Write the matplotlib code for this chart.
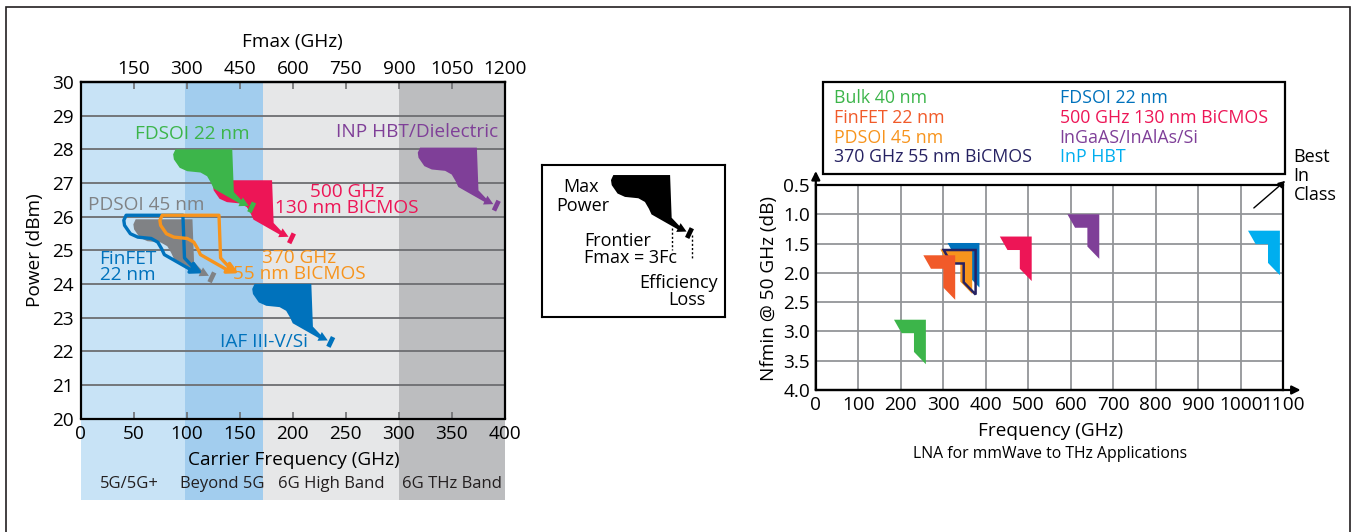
import matplotlib.pyplot as plt
from matplotlib.patches import Polygon, Rectangle

plt.rcParams["font.family"] = ["Open Sans", "DejaVu Sans"]

W_PX, H_PX = 1357, 532
FS = 13.7

# =========================
# Left chart: PA power vs carrier frequency
# =========================
BAND_EDGES = [0, 98, 172, 300, 400]
BAND_NAMES = ["5G/5G+", "Beyond 5G", "6G High Band", "6G THz Band"]
BAND_COLORS = ["#c8e3f6", "#a2cdee", "#e6e7e8", "#bcbdbf"]
BAND_LABEL_X = [46, 134, 236, 350]

FC_TICKS = [0, 50, 100, 150, 200, 250, 300, 350, 400]
FMAX_TICKS = [150, 300, 450, 600, 750, 900, 1050, 1200]
POWER_TICKS = [20, 21, 22, 23, 24, 25, 26, 27, 28, 29, 30]

# top-left corner of each max-power region (carrier GHz, dBm)
PA_NAMES = ["PDSOI 45 nm", "FinFET 22 nm", "370 GHz 55 nm BICMOS",
            "500 GHz 130 nm BICMOS", "FDSOI 22 nm", "INP HBT/Dielectric",
            "IAF III-V/Si"]
PA_FC = [52, 43, 77, 127, 89.5, 320, 164]
PA_POWER = [25.92, 26.04, 26.04, 27.08, 28.0, 28.05, 24.0]
PA_COLORS = ["#808285", "#0072bc", "#f7941d", "#ed1556", "#3cb54a",
             "#7f3f98", "#0072bc"]
PA_FILLED = [True, False, False, True, True, True, True]

PA_LABELS = ["PDSOI 45 nm", "FinFET\n22 nm", "370 GHz\n55 nm BICMOS",
             "500 GHz\n130 nm BICMOS", "FDSOI 22 nm", "INP HBT/Dielectric",
             "IAF III-V/Si"]
PA_LABEL_X = [62, 45, 206, 251, 105, 317, 173]
PA_LABEL_Y = [26.35, 24.5, 24.54, 26.49, 28.44, 28.52, 22.26]

# frontier glyph relative to its top-left corner (GHz, dBm)
FRONTIER_DX = [0, 53.5, 55, 62.2, 63.4, 69, 59.3, 60.5, 36, 33.5, 29.8,
               23.6, 11, 4, -1.5, -2.2]
FRONTIER_DY = [0, 0, -1.27, -1.51, -1.43, -1.68, -1.69, -1.61, -1.17, -1.0,
               -0.8, -0.69, -0.65, -0.55, -0.3, -0.15]
HEAD_IDX = [4, 5, 6]
BAR_DX = [69.6, 74.0]
BAR_DY = [-1.87, -1.58]

# =========================
# Right chart: LNA noise figure
# =========================
LNA_NAMES = ["FDSOI 22 nm", "PDSOI 45 nm", "370 GHz 55 nm BiCMOS",
             "FinFET 22 nm", "Bulk 40 nm", "500 GHz 130 nm BiCMOS",
             "InGaAS/InAlAs/Si", "InP HBT"]
# top-right corner of each glyph (GHz, dB)
LNA_FREQ = [385, 368, 376, 328, 259, 508, 667, 1092]
LNA_NF = [1.49, 1.60, 1.61, 1.70, 2.80, 1.38, 1.00, 1.28]
LNA_COLORS = ["#0072bc", "#f7941d", "#262262", "#f15a29", "#3cb54a",
              "#ed1556", "#7f3f98", "#00aeef"]
LNA_OUTLINE = [False, False, True, False, False, False, False, False]

LEGEND_COL1 = ["Bulk 40 nm", "FinFET 22 nm", "PDSOI 45 nm", "370 GHz 55 nm BiCMOS"]
LEGEND_COL1_COLORS = ["#3cb54a", "#f15a29", "#f7941d", "#262262"]
LEGEND_COL2 = ["FDSOI 22 nm", "500 GHz 130 nm BiCMOS", "InGaAS/InAlAs/Si", "InP HBT"]
LEGEND_COL2_COLORS = ["#0072bc", "#ed1556", "#7f3f98", "#00aeef"]

FREQ_TICKS = [0, 100, 200, 300, 400, 500, 600, 700, 800, 900, 1000, 1100]
NF_TICKS = [0.5, 1.0, 1.5, 2.0, 2.5, 3.0, 3.5, 4.0]

CORNER_DF = [-75, 0, 0, -28, -28, -57]
CORNER_DNF = [0, 0, 0.76, 0.55, 0.23, 0.23]


# =========================
# Utilidades
# =========================
def px_rect(x0, y0, x1, y1):
    return [x0 / W_PX, 1 - y1 / H_PX, (x1 - x0) / W_PX, (y1 - y0) / H_PX]


def fig_text(fig, x, y, s, **kw):
    fig.text(x / W_PX, 1 - y / H_PX, s, **kw)


def draw_frontier(ax, x0, y0, color, filled, zorder=3):
    pts = [(x0 + dx, y0 + dy) for dx, dy in zip(FRONTIER_DX, FRONTIER_DY)]
    if filled:
        ax.add_patch(Polygon(pts, closed=True, facecolor=color,
                             edgecolor="none", zorder=zorder))
        ax.plot([x0 + d for d in BAR_DX], [y0 + d for d in BAR_DY],
                color=color, lw=3.4, solid_capstyle="butt", zorder=zorder)
    else:
        ax.add_patch(Polygon(pts, closed=True, facecolor="none",
                             edgecolor=color, lw=2.4, joinstyle="round",
                             zorder=zorder))
        ax.add_patch(Polygon([pts[i] for i in HEAD_IDX], closed=True,
                             facecolor=color, edgecolor=color, lw=1,
                             zorder=zorder))


def left_chart(fig):
    ax = fig.add_axes(px_rect(80.5, 82, 505, 418.5))
    ax.set_xlim(0, 400)
    ax.set_ylim(20, 30)
    ax.patch.set_visible(False)

    for x0, x1, c in zip(BAND_EDGES[:-1], BAND_EDGES[1:], BAND_COLORS):
        ax.add_patch(Rectangle((x0, -0.242), x1 - x0, 1.242,
                               transform=ax.get_xaxis_transform(),
                               facecolor=c, edgecolor="none",
                               clip_on=False, zorder=0))
    for name, x in zip(BAND_NAMES, BAND_LABEL_X):
        ax.text(x, -0.195, name, transform=ax.get_xaxis_transform(),
                ha="center", va="center", fontsize=12, color="#231f20")

    for p in POWER_TICKS[1:-1]:
        ax.axhline(p, color="#6d6e71", lw=1.3, zorder=1)

    ax.set_xticks(FC_TICKS)
    ax.set_yticks(POWER_TICKS)
    ax.tick_params(axis="x", direction="in", length=5, width=1.2,
                   color="#6d6e71", pad=5, labelsize=FS)
    ax.tick_params(axis="y", length=0, pad=5, labelsize=FS)
    for s in ax.spines.values():
        s.set_linewidth(1.6)
        s.set_color("black")
        s.set_zorder(5)

    sec = ax.secondary_xaxis("top", functions=(lambda f: f * 3, lambda f: f / 3))
    sec.set_xticks(FMAX_TICKS)
    sec.tick_params(direction="in", length=5, width=1.2, color="#6d6e71",
                    pad=3, labelsize=FS)
    sec.spines["top"].set_linewidth(1.6)
    sec.set_xlabel("Fmax (GHz)", fontsize=FS, labelpad=9)

    ax.text(201, -0.123, "Carrier Frequency (GHz)",
            transform=ax.get_xaxis_transform(), ha="center", va="center",
            fontsize=FS)
    ax.set_ylabel("Power (dBm)", fontsize=FS)
    ax.yaxis.set_label_coords(-0.085, 0.5)

    for x0, y0, c, f in zip(PA_FC, PA_POWER, PA_COLORS, PA_FILLED):
        draw_frontier(ax, x0, y0, c, f)

    for s, x, y, c in zip(PA_LABELS, PA_LABEL_X, PA_LABEL_Y, PA_COLORS):
        ax.text(x, y, s, ha="center", va="center", fontsize=FS, color=c,
                linespacing=0.85, zorder=6)


def middle_box(fig):
    axm = fig.add_axes(px_rect(541.7, 165, 725, 316.7))
    axm.set_xlim(0, 183.3 / 1.061)
    axm.set_ylim(0, 151.7 / 33.65)
    axm.set_xticks([])
    axm.set_yticks([])
    for s in axm.spines.values():
        s.set_linewidth(1.5)
    draw_frontier(axm, 67.5, 4.21, "black", True)
    axm.plot([122.5, 122.5], [2.64, 1.98], color="black", lw=1, ls=(0, (1.5, 1.5)))
    axm.plot([141.8, 141.8], [2.43, 1.69], color="black", lw=1, ls=(0, (1.5, 1.5)))

    fs = 13
    fig_text(fig, 581, 187, "Max", ha="center", va="center", fontsize=fs)
    fig_text(fig, 583, 206.5, "Power", ha="center", va="center", fontsize=fs)
    fig_text(fig, 584, 240.5, "Frontier", ha="left", va="center", fontsize=fs)
    fig_text(fig, 584, 258, "Fmax = 3Fc", ha="left", va="center", fontsize=fs)
    fig_text(fig, 679, 283, "Efficiency", ha="center", va="center", fontsize=fs)
    fig_text(fig, 687, 300, "Loss", ha="center", va="center", fontsize=fs)


def right_chart(fig):
    ax = fig.add_axes(px_rect(815.8, 185, 1283.3, 390))
    ax.set_xlim(0, 1100)
    ax.set_ylim(4.0, 0.5)
    ax.set_xticks(FREQ_TICKS)
    ax.set_yticks(NF_TICKS)
    ax.set_yticklabels([f"{v:.1f}" for v in NF_TICKS])
    ax.tick_params(length=0, pad=4, labelsize=FS)
    ax.grid(True, color="#939598", lw=1.3)
    ax.set_axisbelow(True)
    for s in ax.spines.values():
        s.set_linewidth(1.6)
        s.set_color("black")

    for f, nf, c, o in zip(LNA_FREQ, LNA_NF, LNA_COLORS, LNA_OUTLINE):
        pts = [(f + df, nf + dn) for df, dn in zip(CORNER_DF, CORNER_DNF)]
        if o:
            ax.add_patch(Polygon(pts, closed=True, facecolor="none",
                                 edgecolor=c, lw=1.8, zorder=3))
        else:
            ax.add_patch(Polygon(pts, closed=True, facecolor=c,
                                 edgecolor="none", zorder=3))

    arrow = dict(arrowstyle="-|>,head_length=0.5,head_width=0.25", lw=1.6,
                 color="black", shrinkA=0, shrinkB=0)
    ax.annotate("", xy=(0, 1.068), xytext=(0, 0), xycoords="axes fraction",
                arrowprops=arrow)
    ax.annotate("", xy=(1.037, 0), xytext=(0, 0), xycoords="axes fraction",
                arrowprops=arrow)
    ax.annotate("", xy=(1.004, 1.02), xytext=(0.937, 0.888),
                xycoords="axes fraction",
                arrowprops=dict(arrowstyle="-|>,head_length=0.4,head_width=0.2",
                                lw=1, color="black", shrinkA=0, shrinkB=0))

    ax.set_ylabel("Nfmin @ 50 GHz (dB)", fontsize=FS)
    ax.yaxis.set_label_coords(-0.08, 0.493)
    ax.text(0.502, -0.1985, "Frequency (GHz)", transform=ax.transAxes,
            ha="center", va="center", fontsize=FS)
    ax.text(0.502, -0.312, "LNA for mmWave to THz Applications",
            transform=ax.transAxes, ha="center", va="center", fontsize=11.3)

    fig_text(fig, 1293.5, 176, "Best\nIn\nClass", ha="left", va="center",
             fontsize=13, linespacing=1.1)

    fig.add_artist(Rectangle((823.4 / W_PX, 1 - 174.3 / H_PX),
                             (1284.6 - 823.4) / W_PX, (174.3 - 82.3) / H_PX,
                             transform=fig.transFigure, facecolor="none",
                             edgecolor="black", lw=1.6))
    line_y = [98.3, 118.3, 138.3, 157.3]
    for s, c, y in zip(LEGEND_COL1, LEGEND_COL1_COLORS, line_y):
        fig_text(fig, 833.5, y, s, ha="left", va="center", fontsize=12.8, color=c)
    for s, c, y in zip(LEGEND_COL2, LEGEND_COL2_COLORS, line_y):
        fig_text(fig, 1059.5, y, s, ha="left", va="center", fontsize=12.8, color=c)


def main():
    fig = plt.figure(figsize=(W_PX / 100, H_PX / 100), dpi=100)
    fig.add_artist(Rectangle((6 / W_PX, 1 - 545 / H_PX), (1350 - 6) / W_PX,
                             (545 - 7) / H_PX, transform=fig.transFigure,
                             facecolor="none", edgecolor="#231f20", lw=1.2))
    left_chart(fig)
    middle_box(fig)
    right_chart(fig)
    fig.savefig("out.png", dpi=100)
    plt.close(fig)


if __name__ == "__main__":
    main()
